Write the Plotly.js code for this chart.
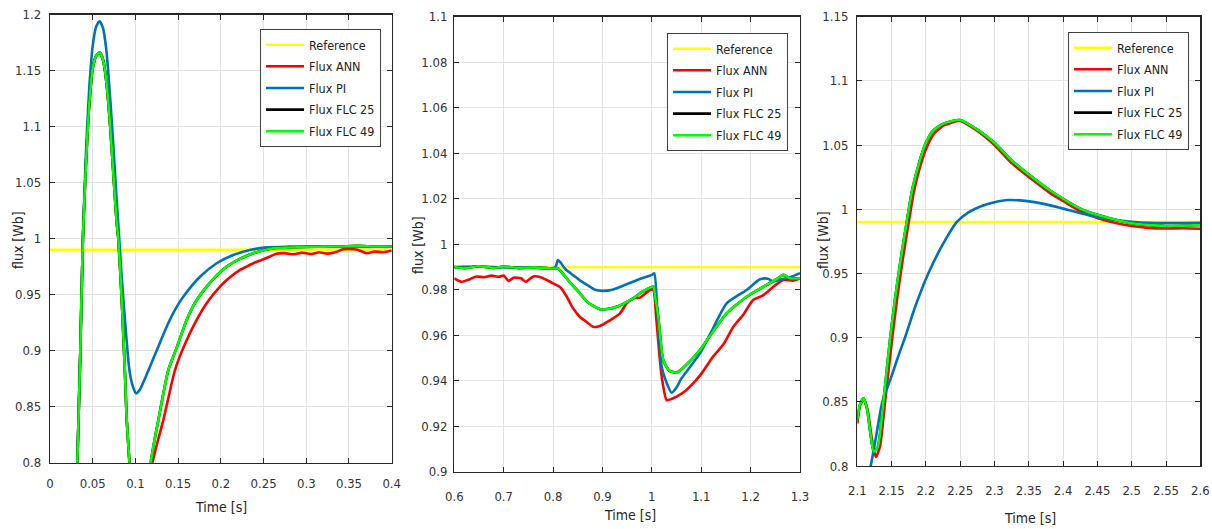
<!DOCTYPE html>
<html>
<head>
<meta charset="utf-8">
<script src="https://cdn.plot.ly/plotly-3.0.1.min.js"></script>
<style>html,body{margin:0;padding:0;background:#fff;}#chart{width:1212px;height:529px;}</style>
</head>
<body>
<div id="chart"></div>
<script>
// ---------- Panel 1 (start-up) ----------
const p1_ref_t = [0, 0.4];
const p1_ref = [0.99, 0.99];
const p1_pi_t = [0, 0.015, 0.025, 0.032, 0.0355, 0.0385, 0.042, 0.046, 0.050, 0.054, 0.058, 0.062, 0.066, 0.070, 0.074, 0.078, 0.080, 0.084, 0.0878, 0.0929, 0.097, 0.1007, 0.105, 0.11, 0.117, 0.127, 0.1366, 0.146, 0.156, 0.1756, 0.1951, 0.2146, 0.2341, 0.2537, 0.28, 0.3, 0.35, 0.4];
const p1_pi = [0, 0.3, 0.6, 0.8, 0.9, 1.0, 1.075, 1.135, 1.172, 1.189, 1.194, 1.188, 1.168, 1.13, 1.085, 1.035, 1.012, 0.965, 0.927, 0.883, 0.868, 0.862, 0.865, 0.873, 0.8857, 0.904, 0.9214, 0.936, 0.9481, 0.966, 0.978, 0.9854, 0.9898, 0.9922, 0.9928, 0.993, 0.993, 0.993];
const p1_flc_t = [0, 0.015, 0.025, 0.032, 0.0355, 0.0385, 0.042, 0.046, 0.050, 0.054, 0.058, 0.062, 0.066, 0.070, 0.074, 0.078, 0.080, 0.084, 0.088, 0.0898, 0.093, 0.100, 0.105, 0.110, 0.115, 0.118, 0.1268, 0.1385, 0.148, 0.16, 0.17, 0.1834, 0.195, 0.2068, 0.22, 0.238, 0.2615, 0.28, 0.3, 0.32, 0.34, 0.36, 0.38, 0.4];
const p1_flc49 = [0, 0.3, 0.6, 0.8, 0.9, 1.0, 1.065, 1.12, 1.152, 1.163, 1.166, 1.16, 1.14, 1.105, 1.06, 1.015, 1.0, 0.945, 0.875, 0.838, 0.8, 0.70, 0.66, 0.68, 0.75, 0.80, 0.838, 0.8827, 0.902, 0.9274, 0.943, 0.9571, 0.967, 0.975, 0.981, 0.9869, 0.9914, 0.992, 0.9925, 0.9928, 0.993, 0.9935, 0.993, 0.993];
const p1_flc25 = p1_flc49.slice();
const p1_ann_t = [0, 0.015, 0.025, 0.032, 0.0355, 0.0385, 0.042, 0.046, 0.050, 0.054, 0.058, 0.062, 0.066, 0.070, 0.074, 0.078, 0.080, 0.084, 0.088, 0.0898, 0.093, 0.100, 0.106, 0.112, 0.117, 0.1202, 0.1327, 0.1463, 0.158, 0.1717, 0.185, 0.199, 0.21, 0.2224, 0.23, 0.238, 0.248, 0.2575, 0.265, 0.275, 0.285, 0.295, 0.305, 0.315, 0.325, 0.335, 0.343, 0.359, 0.3707, 0.38, 0.39, 0.4];
const p1_ann = [0, 0.3, 0.6, 0.8, 0.9, 1.0, 1.065, 1.12, 1.152, 1.163, 1.166, 1.16, 1.14, 1.105, 1.06, 1.015, 1.0, 0.945, 0.875, 0.838, 0.8, 0.69, 0.65, 0.67, 0.74, 0.80, 0.838, 0.8827, 0.906, 0.9274, 0.944, 0.9571, 0.965, 0.972, 0.975, 0.978, 0.981, 0.984, 0.9865, 0.987, 0.986, 0.9875, 0.9862, 0.9878, 0.9866, 0.988, 0.9905, 0.9903, 0.987, 0.9885, 0.9878, 0.9893];

// ---------- Panel 2 (load disturbance) ----------
const p2_ref_t = [0.6, 1.3];
const p2_ref = [0.99, 0.99];
const p2_pi_t = [0.6, 0.65, 0.7, 0.75, 0.8, 0.805, 0.81, 0.815, 0.825, 0.84, 0.855, 0.87, 0.885, 0.9, 0.92, 0.95, 0.98, 1.0, 1.005, 1.01, 1.015, 1.02, 1.03, 1.04, 1.05, 1.06, 1.0975, 1.125, 1.1515, 1.192, 1.219, 1.235, 1.246, 1.26, 1.28, 1.3];
const p2_pi = [0.990, 0.9902, 0.9898, 0.9897, 0.9895, 0.990, 0.993, 0.992, 0.989, 0.9865, 0.984, 0.982, 0.980, 0.9795, 0.980, 0.9825, 0.985, 0.9865, 0.9872, 0.975, 0.958, 0.946, 0.939, 0.9347, 0.937, 0.941, 0.952, 0.9635, 0.974, 0.9799, 0.9846, 0.9848, 0.9836, 0.9845, 0.9855, 0.9873];
const p2_flc_t = [0.6, 0.62, 0.65, 0.68, 0.7, 0.73, 0.76, 0.8, 0.81, 0.82, 0.835, 0.848, 0.87, 0.895, 0.91, 0.929, 0.962, 0.98, 1.003, 1.006, 1.013, 1.023, 1.035, 1.05, 1.065, 1.0975, 1.125, 1.1515, 1.192, 1.2325, 1.255, 1.266, 1.28, 1.3];
const p2_flc49 = [0.990, 0.9895, 0.9903, 0.9896, 0.9902, 0.9895, 0.9898, 0.9893, 0.9893, 0.987, 0.983, 0.980, 0.9745, 0.9714, 0.9715, 0.9725, 0.9762, 0.979, 0.9813, 0.978, 0.968, 0.9491, 0.9445, 0.9435, 0.946, 0.9535, 0.962, 0.9696, 0.9769, 0.9821, 0.985, 0.9865, 0.985, 0.985];
const p2_flc25 = p2_flc49.slice();
const p2_ann_t = [0.6, 0.615, 0.63, 0.645, 0.66, 0.675, 0.69, 0.7, 0.71, 0.72, 0.735, 0.745, 0.76, 0.775, 0.785, 0.8, 0.815, 0.8276, 0.84, 0.854, 0.87, 0.881, 0.895, 0.9017, 0.915, 0.9355, 0.949, 0.962, 0.976, 0.996, 1.003, 1.008, 1.015, 1.02, 1.03, 1.04, 1.05, 1.065, 1.084, 1.1, 1.124, 1.145, 1.165, 1.185, 1.205, 1.225, 1.246, 1.266, 1.285, 1.3];
const p2_ann = [0.985, 0.9835, 0.9845, 0.9858, 0.9855, 0.9862, 0.9857, 0.9862, 0.9838, 0.9853, 0.985, 0.9835, 0.9858, 0.9855, 0.9845, 0.9828, 0.981, 0.977, 0.972, 0.9681, 0.9655, 0.9637, 0.964, 0.9648, 0.9665, 0.9696, 0.974, 0.9762, 0.9765, 0.9799, 0.980, 0.970, 0.952, 0.9418, 0.9315, 0.932, 0.933, 0.935, 0.9389, 0.943, 0.9506, 0.956, 0.9637, 0.969, 0.9755, 0.9775, 0.9813, 0.9843, 0.984, 0.985];

// ---------- Panel 3 (speed reversal) ----------
const p3_ref_t = [2.1, 2.6];
const p3_ref = [0.99, 0.99];
const p3_pi_t = [2.1, 2.11, 2.1195, 2.128, 2.1365, 2.15, 2.16, 2.1695, 2.185, 2.2035, 2.225, 2.2449, 2.262, 2.2813, 2.3, 2.32, 2.345, 2.3736, 2.4, 2.427, 2.45, 2.4757, 2.5, 2.524, 2.55, 2.575, 2.6];
const p3_pi = [0.76, 0.78, 0.80, 0.825, 0.85, 0.87, 0.886, 0.90, 0.925, 0.95, 0.973, 0.99, 0.9975, 1.0025, 1.0055, 1.0072, 1.0065, 1.004, 1.0005, 0.9968, 0.9938, 0.9916, 0.9903, 0.9895, 0.9893, 0.9893, 0.9895];
const p3_flc_t = [2.1, 2.104, 2.109, 2.114, 2.119, 2.124, 2.13, 2.138, 2.148, 2.155, 2.163, 2.172, 2.18, 2.19, 2.1987, 2.21, 2.225, 2.2497, 2.275, 2.3007, 2.325, 2.354, 2.38, 2.403, 2.425, 2.4513, 2.475, 2.5, 2.525, 2.549, 2.575, 2.6];
const p3_flc49 = [0.836, 0.848, 0.8527, 0.845, 0.826, 0.8111, 0.815, 0.85, 0.90, 0.93, 0.96, 0.99, 1.015, 1.036, 1.05, 1.061, 1.0665, 1.0695, 1.062, 1.0514, 1.038, 1.0254, 1.015, 1.0072, 1.0005, 0.9955, 0.992, 0.9891, 0.9878, 0.987, 0.9872, 0.9877];
const p3_flc25 = p3_flc49.slice();
const p3_ann_t = [2.1, 2.104, 2.109, 2.115, 2.121, 2.127, 2.133, 2.1405, 2.151, 2.158, 2.166, 2.175, 2.183, 2.192, 2.201, 2.212, 2.227, 2.25, 2.275, 2.3, 2.325, 2.354, 2.38, 2.403, 2.425, 2.451, 2.475, 2.5, 2.525, 2.549, 2.575, 2.6];
const p3_ann = [0.833, 0.847, 0.852, 0.844, 0.822, 0.807, 0.815, 0.85, 0.90, 0.93, 0.96, 0.99, 1.015, 1.034, 1.048, 1.059, 1.0655, 1.0688, 1.061, 1.050, 1.036, 1.0235, 1.013, 1.0055, 0.9985, 0.993, 0.9895, 0.987, 0.9855, 0.985, 0.9852, 0.9848];

const seriesNames = ['Reference', 'Flux ANN', 'Flux PI', 'Flux FLC 25', 'Flux FLC 49'];
const seriesColors = ['#ffff00', '#ff0000', '#0072bd', '#000000', '#00ff00'];

const W = 1212, H = 529;
const FONT = 'DejaVu Sans Condensed, Liberation Sans Narrow, Arial Narrow, sans-serif';

const panels = [
  {ax: '', lg: 'legend', sets: [[p1_ref_t, p1_ref], [p1_ann_t, p1_ann], [p1_pi_t, p1_pi], [p1_flc_t, p1_flc25], [p1_flc_t, p1_flc49]]},
  {ax: '2', lg: 'legend2', sets: [[p2_ref_t, p2_ref], [p2_ann_t, p2_ann], [p2_pi_t, p2_pi], [p2_flc_t, p2_flc25], [p2_flc_t, p2_flc49]]},
  {ax: '3', lg: 'legend3', sets: [[p3_ref_t, p3_ref], [p3_ann_t, p3_ann], [p3_pi_t, p3_pi], [p3_flc_t, p3_flc25], [p3_flc_t, p3_flc49]]}
];

const traces = [];
panels.forEach((p, pi) => {
  p.sets.forEach((s, i) => {
    traces.push({
      type: 'scatter', mode: 'lines',
      x: s[0], y: s[1],
      name: seriesNames[i],
      line: {color: seriesColors[i], width: i === 0 ? 2.5 : 2.6, shape: 'spline', smoothing: 0.6},
      xaxis: 'x' + p.ax, yaxis: 'y' + p.ax,
      legend: p.lg, legendgroup: 'g' + pi + '_' + i,
      cliponaxis: true
    });
  });
});

function axisBase(dom, range, dtick, standoff, anchor) {
  return {
    domain: dom, range: range, dtick: dtick, tick0: range[0], anchor: anchor,
    showgrid: true, gridcolor: '#e3e3e3', gridwidth: 1, zeroline: false,
    showline: true, linecolor: '#262626', linewidth: 1.3, mirror: 'ticks',
    ticks: 'inside', ticklen: 5, tickcolor: '#262626',
    tickfont: {family: FONT, size: 13, color: '#333333'},
    ticklabelstandoff: standoff, fixedrange: true
  };
}
function px2x(px) { return px / W; }
function py2y(py) { return 1 - py / H; }

function legendAt(px, py) {
  return {
    x: px2x(px), y: py2y(py), xanchor: 'left', yanchor: 'top',
    xref: 'paper', yref: 'paper',
    bgcolor: '#ffffff', bordercolor: '#404040', borderwidth: 1,
    font: {family: FONT, size: 12.5, color: '#222222'},
    tracegroupgap: 2.4, itemwidth: 38, traceorder: 'grouped'
  };
}

const layout = {
  width: W, height: H,
  margin: {l: 0, r: 0, t: 0, b: 0},
  paper_bgcolor: '#ffffff', plot_bgcolor: '#ffffff',
  showlegend: true,
  xaxis: axisBase([px2x(50), px2x(391.7)], [0, 0.4], 0.05, 8, 'y'),
  yaxis: axisBase([py2y(462.7), py2y(14.5)], [0.8, 1.2], 0.05, 5, 'x'),
  xaxis2: axisBase([px2x(454.3), px2x(800)], [0.6, 1.3], 0.1, 12, 'y2'),
  yaxis2: axisBase([py2y(471.7), py2y(16.7)], [0.9, 1.1], 0.02, 3, 'x2'),
  xaxis3: axisBase([px2x(857.3), px2x(1200.3)], [2.1, 2.6], 0.05, 12, 'y3'),
  yaxis3: axisBase([py2y(466), py2y(16.7)], [0.8, 1.15], 0.05, 5, 'x3'),
  legend: legendAt(260, 29),
  legend2: legendAt(667, 33),
  legend3: legendAt(1068, 32),
  annotations: [
    {text: 'flux [Wb]', x: px2x(18), y: py2y(240), textangle: -90},
    {text: 'Time [s]', x: px2x(221), y: py2y(507)},
    {text: 'flux [Wb]', x: px2x(418), y: py2y(245), textangle: -90},
    {text: 'Time [s]', x: px2x(630), y: py2y(515)},
    {text: 'flux [Wb]', x: px2x(823), y: py2y(240), textangle: -90},
    {text: 'Time [s]', x: px2x(1030), y: py2y(518)}
  ].map(a => Object.assign({xref: 'paper', yref: 'paper', showarrow: false, xanchor: 'center', yanchor: 'middle', font: {family: FONT, size: 14, color: '#262626'}}, a))
};

Plotly.newPlot('chart', traces, layout, {displayModeBar: false, staticPlot: true});
</script>
</body>
</html>
